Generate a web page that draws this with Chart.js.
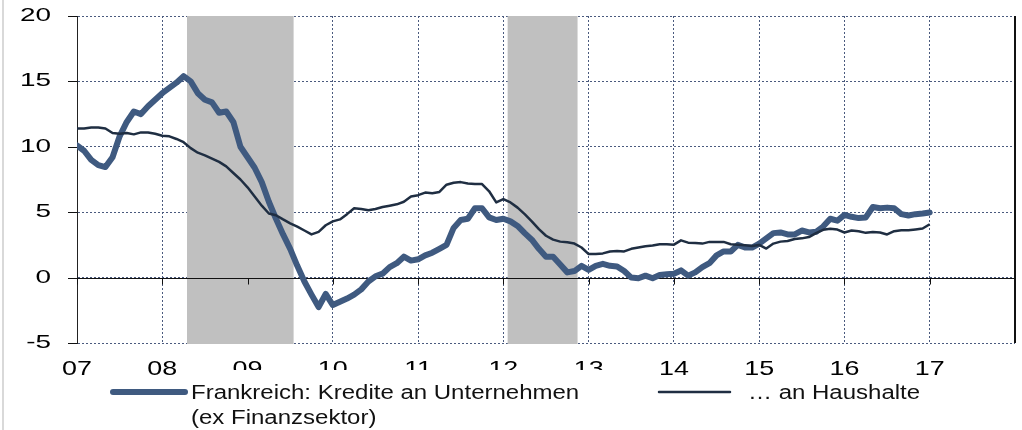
<!DOCTYPE html>
<html>
<head>
<meta charset="utf-8">
<script src="https://cdn.jsdelivr.net/npm/chart.js@4/dist/chart.umd.min.js"></script>
<style>
  html, body { margin: 0; padding: 0; background: #fff; }
  #wrap { position: relative; width: 1022px; height: 430px; }
</style>
</head>
<body>
<div id="wrap"><canvas id="chart"></canvas></div>
<script>
// monthly values, Jan 2007 .. Jan 2017
const startYear = 2007;
const unternehmen = [
  10.1, 9.7, 9.0, 8.6, 8.45, 9.2, 10.8, 11.9, 12.7, 12.5, 13.1, 13.6,
  14.1, 14.5, 14.9, 15.4, 15.0, 14.1, 13.6, 13.4, 12.6, 12.7, 11.9, 10.0,
  9.2, 8.4, 7.3, 5.8, 4.5, 3.3, 2.2, 0.9, -0.3, -1.3, -2.25, -1.25,
  -2.1, -1.85, -1.6, -1.3, -0.9, -0.3, 0.1, 0.3, 0.8, 1.1, 1.6, 1.3,
  1.4, 1.7, 1.9, 2.2, 2.5, 3.8, 4.4, 4.5, 5.3, 5.3, 4.6, 4.4,
  4.5, 4.3, 3.95, 3.4, 2.9, 2.2, 1.6, 1.6, 1.0, 0.4, 0.5, 0.9,
  0.6, 0.9, 1.05, 0.9, 0.85, 0.5, 0.0, -0.05, 0.15, -0.05, 0.2, 0.25,
  0.3, 0.55, 0.15, 0.4, 0.8, 1.1, 1.7, 2.0, 2.0, 2.5, 2.3, 2.3,
  2.6, 3.0, 3.4, 3.45, 3.3, 3.3, 3.6, 3.45, 3.5, 3.9, 4.5, 4.35,
  4.8, 4.65, 4.55, 4.6, 5.4, 5.3, 5.35, 5.3, 4.85, 4.75, 4.85, 4.9, 4.97
];
const haushalte = [
  11.4, 11.4, 11.47, 11.47, 11.4, 11.05, 11.0, 11.05, 10.95, 11.1, 11.1, 11.0,
  10.85, 10.8, 10.6, 10.35, 9.9, 9.55, 9.35, 9.1, 8.85, 8.5, 8.0, 7.5,
  6.9, 6.2, 5.5, 4.9, 4.77, 4.45, 4.15, 3.9, 3.6, 3.3, 3.5, 4.0,
  4.3, 4.45, 4.85, 5.3, 5.25, 5.15, 5.25, 5.4, 5.5, 5.6, 5.8, 6.2,
  6.3, 6.5, 6.45, 6.55, 7.1, 7.25, 7.3, 7.2, 7.15, 7.15, 6.6, 5.75,
  6.0, 5.75, 5.35, 4.85, 4.3, 3.7, 3.2, 2.9, 2.75, 2.7, 2.6, 2.3,
  1.8, 1.8, 1.85, 2.0, 2.03, 2.0, 2.2, 2.3, 2.4, 2.45, 2.55, 2.55,
  2.52, 2.85, 2.67, 2.65, 2.6, 2.73, 2.72, 2.73, 2.55, 2.52, 2.48, 2.42,
  2.5, 2.22, 2.6, 2.75, 2.8, 2.95, 3.0, 3.1, 3.4, 3.65, 3.74, 3.67,
  3.45, 3.6, 3.55, 3.42, 3.48, 3.45, 3.3, 3.55, 3.62, 3.62, 3.68, 3.75, 4.08
];
const shaded = [[2008.29, 2009.54], [2012.05, 2012.87]];
const yearTicks = [2007, 2008, 2009, 2010, 2011, 2012, 2013, 2014, 2015, 2016, 2017];
const yearLabels = ['07', '08', '09', '10', '11', '12', '13', '14', '15', '16', '17'];
const yTicks = [-5, 0, 5, 10, 15, 20];
const legendLabels = ['Frankreich: Kredite an Unternehmen', '(ex Finanzsektor)', '\u2026 an Haushalte'];

const colThick = '#3f5a80';
const colThin = '#1f2e42';
const font = '"Liberation Sans", Arial, sans-serif';

const toPoints = arr => arr.map((v, i) => ({ x: startYear + i / 12, y: v }));

function stretchText(ctx, txt, x, y, sx, align) {
  ctx.save();
  ctx.translate(x, y);
  ctx.scale(sx, 1);
  ctx.textAlign = align;
  ctx.fillText(txt, 0, 0);
  ctx.restore();
}

const decor = {
  id: 'decor',
  beforeDatasetsDraw(chart) {
    const { ctx, chartArea: a, scales: { x, y } } = chart;
    ctx.save();
    ctx.fillStyle = '#c0c0c0';
    shaded.forEach(([s, e]) => {
      const x0 = x.getPixelForValue(s), x1 = x.getPixelForValue(e);
      ctx.fillRect(x0, a.top, x1 - x0, a.bottom - a.top + 1);
    });
    // zero line with year ticks
    const y0 = Math.round(y.getPixelForValue(0)) + 0.5;
    ctx.strokeStyle = '#111';
    ctx.lineWidth = 1;
    ctx.beginPath();
    ctx.moveTo(a.left, y0);
    ctx.lineTo(a.right, y0);
    yearTicks.forEach(v => {
      const px = Math.round(x.getPixelForValue(v)) + 0.5;
      ctx.moveTo(px, y0);
      ctx.lineTo(px, y0 + 6);
    });
    // y tick marks left of axis
    yTicks.forEach(v => {
      const py = Math.round(y.getPixelForValue(v)) + 0.5;
      ctx.moveTo(a.left - 9, py);
      ctx.lineTo(a.left, py);
    });
    ctx.stroke();
    // right frame
    ctx.lineWidth = 2;
    ctx.beginPath();
    ctx.moveTo(a.right, a.top);
    ctx.lineTo(a.right, a.bottom);
    ctx.stroke();
    ctx.restore();
  },
  afterDraw(chart) {
    const { ctx, chartArea: a, scales: { x, y } } = chart;
    ctx.save();
    ctx.fillStyle = '#000';
    ctx.textBaseline = 'middle';
    ctx.font = '18px ' + font;
    yTicks.forEach(v => stretchText(ctx, String(v), 51, y.getPixelForValue(v), 1.55, 'right'));
    ctx.font = '21px ' + font;
    yearTicks.forEach((v, i) => stretchText(ctx, yearLabels[i], x.getPixelForValue(v), 369, 1.28, 'center'));

    // legend box (covers the lower part of some year labels, as in the original)
    ctx.fillStyle = '#fff';
    ctx.fillRect(190, 370, 450, 60);
    ctx.lineCap = 'round';
    ctx.strokeStyle = colThick;
    ctx.lineWidth = 6;
    ctx.beginPath(); ctx.moveTo(113, 392); ctx.lineTo(185, 392); ctx.stroke();
    ctx.strokeStyle = colThin;
    ctx.lineWidth = 2.5;
    ctx.beginPath(); ctx.moveTo(659, 392); ctx.lineTo(730, 392); ctx.stroke();
    ctx.fillStyle = '#111';
    ctx.textBaseline = 'alphabetic';
    ctx.font = '20px ' + font;
    stretchText(ctx, legendLabels[0], 191, 399, 1.2, 'left');
    stretchText(ctx, legendLabels[1], 191, 424, 1.2, 'left');
    stretchText(ctx, legendLabels[2], 748, 399, 1.2, 'left');

    // light frame at the left edge
    ctx.fillStyle = '#d9d9d9';
    ctx.fillRect(2, 0, 2, 430);
    ctx.restore();
  }
};

new Chart(document.getElementById('chart'), {
  type: 'line',
  data: {
    datasets: [
      {
        label: legendLabels[0],
        data: toPoints(unternehmen),
        borderColor: colThick,
        borderWidth: 6,
        pointRadius: 0,
        tension: 0,
        borderJoinStyle: 'round',
        borderCapStyle: 'round',
        order: 2
      },
      {
        label: legendLabels[2],
        data: toPoints(haushalte),
        borderColor: colThin,
        borderWidth: 2.5,
        pointRadius: 0,
        tension: 0,
        borderJoinStyle: 'round',
        order: 1
      }
    ]
  },
  options: {
    responsive: true,
    maintainAspectRatio: false,
    animation: false,
    layout: { padding: { left: 77, right: 7, top: 16, bottom: 87 } },
    plugins: { legend: { display: false }, tooltip: { enabled: false } },
    scales: {
      x: {
        type: 'linear',
        min: 2007,
        max: 2018,
        ticks: { display: false, stepSize: 1 },
        grid: {
          drawTicks: false,
          color: c => (c.tick && (c.tick.value === 2007 || c.tick.value === 2018)) ? 'rgba(0,0,0,0)' : '#4a5a7e'
        },
        border: { display: false, dash: [2, 2] }
      },
      y: {
        min: -5,
        max: 20,
        ticks: { display: false, stepSize: 5 },
        grid: { drawTicks: false, color: '#4a5a7e' },
        border: { display: true, color: '#222', width: 1, dash: [2, 2] }
      }
    }
  },
  plugins: [decor]
});
</script>
</body>
</html>
